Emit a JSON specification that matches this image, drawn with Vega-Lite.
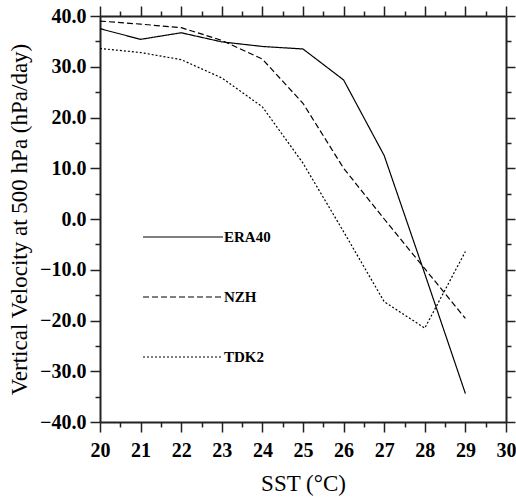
{
  "$schema": "https://vega.github.io/schema/vega-lite/v6.json",
  "width": 406,
  "height": 406,
  "autosize": {"type": "none"},
  "padding": {"left": 100, "top": 16, "right": 10, "bottom": 78},
  "background": "white",
  "config": {
    "view": {"stroke": null},
    "axis": {
      "domainColor": "#222",
      "domainWidth": 2,
      "tickColor": "#222",
      "tickWidth": 1.5,
      "grid": false,
      "labelFont": "Liberation Serif",
      "labelFontWeight": "bold",
      "labelFontSize": 20,
      "labelColor": "black",
      "titleFont": "Liberation Serif",
      "titleFontWeight": "normal",
      "titleFontSize": 23,
      "titleColor": "black"
    }
  },
  "data": {
    "values": [
      {"sst": 20, "w": 37.5, "model": "ERA40"},
      {"sst": 21, "w": 35.4, "model": "ERA40"},
      {"sst": 22, "w": 36.7, "model": "ERA40"},
      {"sst": 23, "w": 34.9, "model": "ERA40"},
      {"sst": 24, "w": 34.0, "model": "ERA40"},
      {"sst": 25, "w": 33.5, "model": "ERA40"},
      {"sst": 26, "w": 27.4, "model": "ERA40"},
      {"sst": 27, "w": 12.5, "model": "ERA40"},
      {"sst": 28, "w": -10.8, "model": "ERA40"},
      {"sst": 29, "w": -34.4, "model": "ERA40"},
      {"sst": 20, "w": 39.0, "model": "NZH"},
      {"sst": 21, "w": 38.4, "model": "NZH"},
      {"sst": 22, "w": 37.7, "model": "NZH"},
      {"sst": 23, "w": 35.2, "model": "NZH"},
      {"sst": 24, "w": 31.5, "model": "NZH"},
      {"sst": 25, "w": 22.8, "model": "NZH"},
      {"sst": 26, "w": 10.0, "model": "NZH"},
      {"sst": 27, "w": 0.0, "model": "NZH"},
      {"sst": 28, "w": -9.8, "model": "NZH"},
      {"sst": 29, "w": -19.6, "model": "NZH"},
      {"sst": 20, "w": 33.6, "model": "TDK2"},
      {"sst": 21, "w": 32.8, "model": "TDK2"},
      {"sst": 22, "w": 31.4, "model": "TDK2"},
      {"sst": 23, "w": 27.8, "model": "TDK2"},
      {"sst": 24, "w": 22.1, "model": "TDK2"},
      {"sst": 25, "w": 11.0, "model": "TDK2"},
      {"sst": 26, "w": -2.5, "model": "TDK2"},
      {"sst": 27, "w": -16.3, "model": "TDK2"},
      {"sst": 28, "w": -21.5, "model": "TDK2"},
      {"sst": 29, "w": -6.4, "model": "TDK2"}
    ]
  },
  "layer": [
    {
      "mark": {"type": "line", "color": "black", "strokeWidth": 1.2},
      "encoding": {
        "x": {
          "field": "sst", "type": "quantitative",
          "scale": {"domain": [20, 30], "nice": false, "zero": false},
          "axis": {
            "orient": "top", "title": null, "labels": false,
            "values": [20,20.5,21,21.5,22,22.5,23,23.5,24,24.5,25,25.5,26,26.5,27,27.5,28,28.5,29,29.5,30],
            "tickSize": {"condition": {"test": "datum.value % 1 !== 0", "value": 5}, "value": 10}
          }
        },
        "y": {
          "field": "w", "type": "quantitative",
          "scale": {"domain": [-40, 40], "nice": false, "zero": false},
          "axis": {
            "orient": "right", "title": null, "labels": false,
            "values": [-40,-35,-30,-25,-20,-15,-10,-5,0,5,10,15,20,25,30,35,40],
            "tickSize": {"condition": {"test": "datum.value % 10 !== 0", "value": 5}, "value": 9}
          }
        },
        "detail": {"field": "model"},
        "strokeDash": {
          "field": "model", "type": "nominal",
          "scale": {"domain": ["ERA40", "NZH", "TDK2"], "range": [[1, 0], [6, 3], [2, 2]]},
          "legend": {
            "orient": "none",
            "legendX": 42,
            "legendY": 180,
            "title": null,
            "padding": 0,
            "symbolType": "stroke",
            "symbolSize": 6400,
            "symbolStrokeWidth": 1.2,
            "symbolStrokeColor": "black",
            "labelFont": "Liberation Serif",
            "labelFontWeight": "bold",
            "labelFontSize": 15,
            "labelColor": "black",
            "labelOffset": 0,
            "rowPadding": 11
          }
        }
      }
    },
    {
      "mark": {"type": "line", "opacity": 0},
      "encoding": {
        "x": {
          "field": "sst", "type": "quantitative",
          "axis": {
            "orient": "bottom",
            "title": "SST (°C)",
            "titlePadding": 12,
            "values": [20,20.5,21,21.5,22,22.5,23,23.5,24,24.5,25,25.5,26,26.5,27,27.5,28,28.5,29,29.5,30],
            "labelExpr": "datum.value % 1 === 0 ? datum.value : ''",
            "tickSize": {"condition": {"test": "datum.value % 1 !== 0", "value": 5}, "value": 10},
            "labelPadding": 8,
            "labelFlush": false
          }
        },
        "y": {
          "field": "w", "type": "quantitative",
          "axis": {
            "orient": "left",
            "title": "Vertical Velocity at 500 hPa (hPa/day)",
            "titlePadding": 8,
            "values": [-40,-35,-30,-25,-20,-15,-10,-5,0,5,10,15,20,25,30,35,40],
            "labelExpr": "datum.value % 10 === 0 ? format(datum.value, '.1f') : ''",
            "tickSize": {"condition": {"test": "datum.value % 10 !== 0", "value": 5}, "value": 10},
            "labelPadding": 4,
            "labelFlush": false
          }
        },
        "detail": {"field": "model"}
      }
    }
  ],
  "resolve": {"axis": {"x": "independent", "y": "independent"}}
}
